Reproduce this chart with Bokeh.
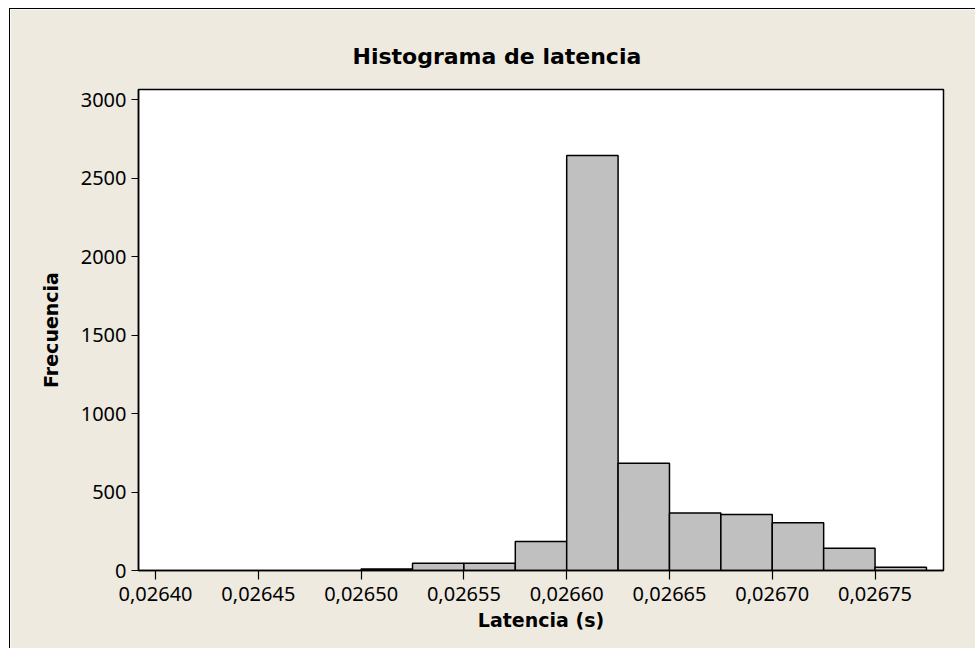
from bokeh.plotting import figure
from bokeh.models import FixedTicker, CustomJSTickFormatter, Range1d, Title, ColumnDataSource
from bokeh.embed import file_html
from bokeh.resources import INLINE

# ---- data ----
bin_width = 0.000025
bin_left = [0.02650, 0.026525, 0.02655, 0.026575, 0.02660, 0.026625,
            0.02665, 0.026675, 0.02670, 0.026725, 0.02675]
counts = [10, 46, 46, 185, 2643, 683, 367, 357, 304, 142, 21]
x_ticks = [0.02640, 0.02645, 0.02650, 0.02655, 0.02660, 0.02665, 0.02670, 0.02675]
y_ticks = [0, 500, 1000, 1500, 2000, 2500, 3000]

BG = "#eeeae0"

p = figure(width=966, height=640, output_backend="svg", toolbar_location=None,
           x_range=Range1d(0.0263917, 0.0267833), y_range=Range1d(0, 3064),
           min_border_left=128, min_border_right=33, min_border_top=80, min_border_bottom=79,
           background_fill_color="white", border_fill_color=BG,
           outline_line_color="black", outline_line_width=1.5)
p.styles = {"border-top": "1.5px solid black", "border-left": "1.5px solid black",
            "margin-left": "9px", "margin-top": "8px"}

src = ColumnDataSource(dict(left=bin_left,
                            right=[b + bin_width for b in bin_left],
                            top=counts, bottom=[0] * len(counts)))
p.quad(left="left", right="right", top="top", bottom="bottom", source=src,
       fill_color="#c0c0c0", line_color="black", line_width=1.5)

title = Title(text="Histograma de latencia", align="left", offset=214,
              text_font="DejaVu Sans", text_font_size="22px", text_font_style="bold",
              text_color="black", standoff=42)
p.add_layout(title, "above")

p.xgrid.visible = False
p.ygrid.visible = False

p.xaxis.ticker = FixedTicker(ticks=x_ticks)
p.xaxis.formatter = CustomJSTickFormatter(code="return tick.toFixed(5).replace('.', ',');")
p.yaxis.ticker = FixedTicker(ticks=y_ticks)
p.yaxis.formatter = CustomJSTickFormatter(code="return tick.toFixed(0);")

for ax in (p.xaxis[0], p.yaxis[0]):
    ax.axis_line_color = "black"
    ax.axis_line_width = 1.5
    ax.major_tick_line_color = "black"
    ax.major_tick_line_width = 1.2
    ax.major_tick_in = 0
    ax.minor_tick_line_color = None
    ax.major_label_text_font = "Noto Sans"
    ax.major_label_text_font_size = "20px"
    ax.major_label_text_color = "black"
    ax.axis_label_text_font = "DejaVu Sans"
    ax.axis_label_text_font_size = "19px"
    ax.axis_label_text_font_style = "bold"
    ax.axis_label_text_color = "black"

p.xaxis.axis_label = "Latencia (s)"
p.yaxis.axis_label = "Frecuencia"
p.xaxis.major_tick_out = 9
p.yaxis.major_tick_out = 7
p.xaxis.major_label_standoff = 7
p.yaxis.major_label_standoff = 5
p.xaxis.axis_label_standoff = 5
p.yaxis.axis_label_standoff = 16

open("out.html", "w").write(file_html(p, INLINE))
